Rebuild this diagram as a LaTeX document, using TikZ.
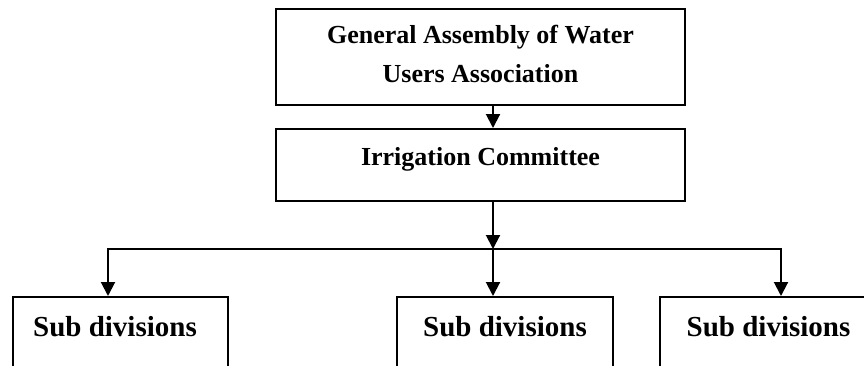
\documentclass[tikz,border=0pt]{standalone}
\usepackage{fontspec}
\setmainfont{Liberation Serif}
\usetikzlibrary{arrows.meta}
\begin{document}
\begin{tikzpicture}[x=1pt,y=-1pt,
  box/.style={draw=black, line width=2pt, rectangle, inner sep=0pt, fill=white},
  topfont/.style={font=\bfseries\fontsize{26}{39}\selectfont},
  subfont/.style={font=\bfseries\fontsize{29}{35}\selectfont},
  conn/.style={draw=black, line width=2pt},
  arr/.style={conn, -{Triangle[length=14pt,width=14pt]}},
  darr/.style={conn, {Triangle[length=14pt,width=14pt]}-{Triangle[length=14pt,width=14pt]}}
]
\useasboundingbox (0,0) rectangle (864,365);
\clip (0,0) rectangle (864,365);

\node[box, topfont, minimum width=409pt, minimum height=96pt, text height=20pt, text depth=48pt] (top) at (480.5,57)
  {\begin{tabular}[t]{@{}c@{}}General Assembly of Water\\Users Association\end{tabular}};
\node[box, topfont, minimum width=409pt, minimum height=72pt, text height=18pt, text depth=18pt] (irr) at (480.5,165)
  {Irrigation Committee};

\node[box, subfont, minimum width=215pt, minimum height=123pt, text height=21pt, text depth=66pt] (sl) at (120.5,358.5)
  {Sub divisions\hspace*{11pt}};
\node[box, subfont, minimum width=216pt, minimum height=123pt, text height=21pt, text depth=66pt] (sm) at (505,358.5)
  {Sub divisions};
\node[box, subfont, minimum width=217pt, minimum height=123pt, text height=21pt, text depth=66pt] (sr) at (768.5,358.5)
  {Sub divisions};

\coordinate (split) at (493,249);
\coordinate (jl) at (108,249);
\coordinate (jr) at (781,249);

\draw[arr] ([xshift=12.5pt]top.south) -- ([xshift=12.5pt]irr.north);
\draw[arr] ([xshift=12.5pt]irr.south) -- (split);
\draw[darr] (jl |- sl.north) -- (jl) -- (jr) -- (jr |- sr.north);
\draw[arr] (split) -- (split |- sm.north);
\end{tikzpicture}
\end{document}
